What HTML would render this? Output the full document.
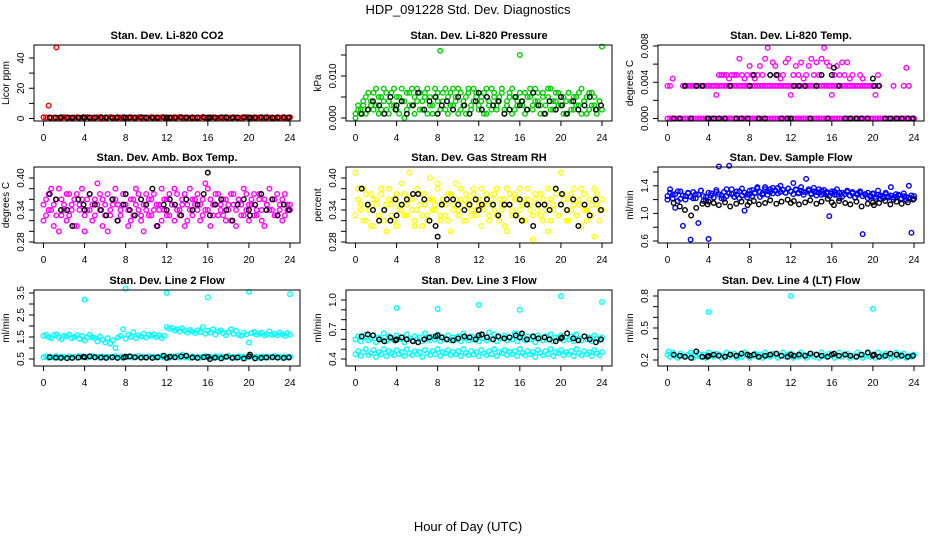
<!DOCTYPE html>
<html><head><meta charset="utf-8"><style>
html,body{margin:0;padding:0;background:#fff;}
svg{display:block;font-family:"Liberation Sans",Arial,sans-serif;}
</style></head><body>
<svg id="chart" width="936" height="540" viewBox="0 0 936 540" xmlns="http://www.w3.org/2000/svg">
<text x="468" y="14" text-anchor="middle" font-size="13">HDP_091228  Std. Dev. Diagnostics</text>
<text x="468" y="531" text-anchor="middle" font-size="13">Hour of Day (UTC)</text>
</svg>
<script>
const T = [0,0.25,0.5,0.75,1,1.25,1.5,1.75,2,2.25,2.5,2.75,3,3.25,3.5,3.75,4,4.25,4.5,4.75,5,5.25,5.5,5.75,6,6.25,6.5,6.75,7,7.25,7.5,7.75,8,8.25,8.5,8.75,9,9.25,9.5,9.75,10,10.25,10.5,10.75,11,11.25,11.5,11.75,12,12.25,12.5,12.75,13,13.25,13.5,13.75,14,14.25,14.5,14.75,15,15.25,15.5,15.75,16,16.25,16.5,16.75,17,17.25,17.5,17.75,18,18.25,18.5,18.75,19,19.25,19.5,19.75,20,20.25,20.5,20.75,21,21.25,21.5,21.75,22,22.25,22.5,22.75,23,23.25,23.5,23.75,24];
const TB = [0.6,1.2,1.7,2.3,2.8,3.4,3.9,4.0,4.5,5.0,5.6,6.1,6.7,7.2,7.8,8.0,8.4,8.9,9.5,10.0,10.6,11.1,11.7,12.0,12.3,12.8,13.4,13.9,14.5,15.0,15.6,16.0,16.2,16.7,17.3,17.8,18.4,18.9,19.5,20.0,20.1,20.6,21.2,21.7,22.3,22.8,23.4,23.9];
const xTicks = [0,4,8,12,16,20,24];
const n = null;

const co2Red = [0.8,0.6,8.5,0.5,0.7,47,0.6,0.5,0.9,0.6,0.7,0.5,0.6,0.8,0.5,0.7,0.6,0.9,0.5,0.6,0.7,0.8,0.6,0.5,0.7,0.6,0.9,0.5,0.6,0.8,0.7,0.5,0.6,0.7,0.9,0.6,0.5,0.8,0.6,0.7,0.5,0.6,0.9,0.7,0.6,0.5,0.8,0.6,0.7,0.5,0.6,0.8,0.7,0.9,0.5,0.6,0.7,0.6,0.8,0.5,0.7,0.6,0.9,0.5,0.6,0.7,0.8,0.6,0.5,0.7,0.6,0.9,0.5,0.6,0.8,0.7,0.5,0.6,0.7,0.9,0.6,0.5,0.8,0.6,0.7,0.5,0.6,0.9,0.7,0.6,0.5,0.8,0.6,0.7,0.5,0.6,0.8];
const co2Black = [0.7,0.6,0.8,0.7,0.6,0.7,0.8,0.6,0.7,0.6,0.8,0.7,0.6,0.7,0.8,0.6,0.7,0.6,0.8,0.7,0.6,0.7,0.8,0.6,0.7,0.6,0.8,0.7,0.6,0.7,0.8,0.6,0.7,0.6,0.8,0.7,0.6,0.7,0.8,0.6,0.7,0.6,0.8,0.7,0.6,0.7,0.8,0.6];

const presA = [0.001,0.002,0.001,0.003,0.005,0.002,0.004,0.006,0.003,0.001,0.005,0.007,0.002,0.004,0.006,0.003,0.005,0.001,0.007,0.004,0.002,0.006,0.003,0.005,0.007,0.002,0.004,0.006,0.001,0.005,0.003,0.007,0.004,0.016,0.006,0.002,0.005,0.003,0.007,0.004,0.001,0.006,0.003,0.005,0.007,0.002,0.004,0.006,0.003,0.005,0.001,0.007,0.004,0.002,0.006,0.003,0.005,0.007,0.002,0.004,0.006,0.001,0.005,0.003,0.015,0.004,0.006,0.002,0.005,0.003,0.007,0.004,0.001,0.006,0.003,0.005,0.007,0.002,0.004,0.006,0.003,0.005,0.001,0.006,0.004,0.002,0.005,0.003,0.007,0.004,0.001,0.006,0.003,0.005,0.002,0.004,0.017];
const presB = [0.000,0.003,0.002,0.004,0.001,0.006,0.003,0.002,0.007,0.005,0.002,0.004,0.006,0.001,0.003,0.007,0.002,0.005,0.004,0.000,0.006,0.003,0.007,0.001,0.004,0.006,0.002,0.005,0.007,0.003,0.001,0.005,0.006,0.002,0.004,0.007,0.001,0.006,0.003,0.005,0.007,0.002,0.004,0.001,0.006,0.003,0.007,0.005,0.002,0.004,0.006,0.001,0.003,0.007,0.005,0.002,0.004,0.006,0.001,0.003,0.005,0.007,0.002,0.004,0.006,0.003,0.001,0.005,0.007,0.002,0.004,0.006,0.003,0.005,0.001,0.007,0.002,0.004,0.006,0.003,0.005,0.001,0.004,0.006,0.002,0.005,0.003,0.006,0.001,0.004,0.005,0.002,0.006,0.003,0.001,0.004,0.002];
const presBlack = [0.001,0.002,0.004,0.003,0.001,0.005,0.002,0.003,0.004,0.001,0.003,0.006,0.002,0.004,0.005,0.001,0.003,0.004,0.002,0.005,0.003,0.001,0.004,0.006,0.002,0.005,0.003,0.004,0.001,0.002,0.005,0.003,0.004,0.002,0.006,0.003,0.001,0.004,0.002,0.005,0.003,0.001,0.004,0.002,0.003,0.005,0.002,0.003];

const tempZero = [0,0,0,0,0,0,0,0,0,0,0,0,0,0,0,0,0,0,0,0,0,0,0,0,0,0,0,0,0,0,0,0,0,0,0,0,0,0,0,0,0,0,0,0,0,0,0,0,0,0,0,0,0,0,0,0,0,0,0,0,0,0,0,0,0,0,0,0,0,0,0,0,0,0,0,0,0,0,0,0,0,0,0,0,0,0,0,0,0,0,0,0,0,0,0,0,0];
const tempBand = [.0036,.0036,n,n,n,n,.0036,.0036,.0036,.0036,.0036,.0036,.0036,.0036,.0036,.0036,.0036,.0036,.0036,.0036,.0036,.0036,.0036,.0036,.0036,.0036,.0036,.0036,.0036,.0036,.0036,.0036,.0036,.0036,.0036,.0036,.0036,.0036,.0036,.0036,.0036,.0036,.0036,.0036,.0036,.0036,.0036,.0036,.0036,.0036,.0036,.0036,.0036,.0036,.0036,.0036,.0036,.0036,.0036,.0036,.0036,.0036,.0036,.0036,.0036,.0036,.0036,.0036,.0036,.0036,.0036,.0036,.0036,.0036,.0036,.0036,.0036,.0036,.0036,.0036,.0036,.0036,.0036,n,n,n,n,n,.0036,n,n,n,.0036,n,.0036,n,n];
const tempScatter = [n,n,.0044,n,n,n,n,n,n,n,n,n,n,n,n,n,n,n,n,.0026,.0048,.0048,.0048,.0048,.0044,.0048,.0048,.0048,.0066,.0048,.0044,.0048,.0058,.0048,.0044,.0048,.0058,.0048,.0066,.0078,.0048,.0062,.0058,.0048,.0044,.0048,.0062,.0066,.0026,.0048,.0058,.0048,.0062,.0044,.0048,.0058,.0066,.0048,.0062,.0048,.0066,.0078,.0062,.0058,.0026,.0048,.0058,.0048,.0062,.0048,.0062,.0044,.0048,n,n,.0048,.0044,n,n,n,n,.0026,.0048,n,n,n,n,n,n,n,n,n,n,.0056,n,n,n];
const tempBlack = [0,0,.0036,0,.0036,.0036,0,0,0,0,0,.0036,0,0,0,.0036,.0048,0,0,.0048,.0048,0,0,0,.0036,.0036,.0036,0,.0036,.0048,0,.0048,.0056,.0036,0,0,0,0,0,.0044,.0036,.0036,0,0,0,0,0,0];

const ambA = [.35,.33,.37,.34,.31,.36,.38,.33,.35,.32,.37,.34,.36,.31,.35,.38,.33,.36,.34,.32,.36,.39,.34,.31,.35,.37,.33,.35,.36,.32,.34,.37,.35,.31,.36,.33,.38,.34,.32,.35,.37,.33,.36,.34,.31,.35,.38,.34,.36,.33,.35,.32,.37,.34,.36,.31,.35,.38,.33,.36,.34,.32,.36,.39,.34,.31,.35,.37,.33,.35,.36,.32,.34,.37,.35,.31,.36,.33,.38,.34,.32,.35,.37,.33,.36,.34,.31,.35,.38,.34,.36,.33,.35,.32,.37,.34,.35];
const ambB = [.32,.36,.34,.38,.35,.33,.30,.36,.34,.37,.33,.35,.31,.37,.34,.36,.30,.34,.37,.35,.33,.35,.37,.36,.33,.30,.34,.36,.38,.35,.33,.35,.37,.34,.32,.36,.35,.37,.33,.30,.34,.36,.33,.37,.35,.34,.32,.36,.33,.37,.35,.38,.34,.33,.35,.37,.32,.34,.36,.35,.37,.35,.33,.34,.38,.36,.33,.35,.37,.34,.33,.36,.35,.32,.37,.34,.36,.35,.33,.37,.35,.36,.33,.34,.37,.32,.36,.35,.34,.36,.33,.37,.34,.36,.33,.35,.34];
const ambBlack = [.37,.36,.34,.34,.31,.36,.35,.34,.37,.35,.34,.33,.36,.32,.35,.37,.34,.33,.36,.35,.38,.31,.35,.34,.36,.35,.33,.36,.34,.35,.37,.41,.33,.35,.36,.34,.32,.35,.36,.34,.33,.35,.37,.34,.36,.33,.35,.34];

const flowA = [1.25,1.30,1.22,1.28,1.18,1.32,1.26,1.20,1.29,1.24,1.31,1.22,1.27,1.33,1.25,1.19,1.30,1.26,1.23,1.34,1.28,1.22,1.31,1.25,1.29,1.35,1.24,1.27,1.32,1.26,1.30,1.23,1.28,1.34,1.29,1.36,1.31,1.27,1.38,1.32,1.35,1.29,1.33,1.37,1.31,1.34,1.30,1.36,1.32,1.28,1.34,1.30,1.33,1.27,1.31,1.35,1.29,1.32,1.26,1.30,1.33,1.28,1.31,1.25,1.29,1.32,1.27,1.30,1.24,1.28,1.31,1.26,1.29,1.23,1.27,1.30,1.25,1.28,1.22,1.26,1.29,1.24,1.27,1.21,1.25,1.28,1.23,1.26,1.20,1.24,1.27,1.22,1.25,1.19,1.23,1.26,1.21];
const flowB = [1.20,1.35,1.27,1.08,1.32,1.21,0.82,1.25,1.30,0.62,1.22,1.28,0.86,1.33,1.18,1.24,0.63,1.29,1.23,1.31,1.68,1.26,1.21,1.35,1.69,1.28,1.24,1.32,1.22,1.36,1.04,1.27,1.33,1.25,1.30,1.38,1.24,1.29,1.35,1.27,1.31,1.37,1.33,1.29,1.40,1.34,1.30,1.36,1.32,1.44,1.35,1.29,1.38,1.31,1.50,1.33,1.28,1.37,1.31,1.35,1.27,1.34,1.29,0.96,1.32,1.27,1.35,1.22,1.30,1.28,1.33,1.26,1.31,1.23,1.29,1.32,0.70,1.27,1.30,1.24,1.28,1.21,1.33,1.26,1.22,1.30,1.25,1.38,1.23,1.28,1.26,1.21,1.29,1.24,1.40,0.72,1.25];
const flowBlack = [1.15,1.10,1.05,0.97,1.08,1.14,1.13,1.17,1.15,1.12,1.16,1.10,1.14,1.17,1.12,1.16,1.18,1.13,1.15,1.19,1.14,1.17,1.20,1.15,1.18,1.13,1.16,1.19,1.14,1.17,1.21,1.16,1.12,1.18,1.15,1.13,1.17,1.10,1.14,1.16,1.12,1.15,1.18,1.13,1.17,1.14,1.16,1.20];

const rhA = [.41,.36,.34,.38,.32,.35,.37,.31,.36,.33,.38,.34,.30,.36,.35,.32,.37,.34,.39,.33,.35,.41,.36,.32,.34,.37,.31,.35,.33,.40,.36,.34,.38,.32,.35,.33,.37,.30,.35,.39,.34,.36,.32,.37,.35,.33,.38,.34,.36,.31,.35,.37,.33,.36,.34,.38,.32,.35,.36,.30,.37,.34,.36,.33,.38,.35,.32,.36,.34,.285,.37,.35,.33,.36,.34,.38,.32,.35,.37,.33,.41,.36,.34,.32,.37,.35,.33,.36,.38,.34,.32,.36,.35,.29,.37,.34,.36];
const rhB = [.33,.38,.35,.32,.37,.34,.31,.36,.35,.33,.37,.32,.35,.38,.33,.36,.31,.35,.34,.37,.33,.36,.34,.31,.38,.35,.33,.37,.32,.36,.34,.35,.39,.33,.36,.35,.32,.37,.34,.36,.33,.38,.35,.32,.36,.34,.37,.33,.35,.38,.34,.36,.32,.35,.37,.33,.36,.34,.31,.38,.35,.33,.37,.36,.34,.32,.36,.38,.35,.33,.36,.34,.37,.32,.35,.30,.36,.34,.38,.33,.35,.37,.32,.36,.34,.38,.33,.35,.31,.37,.34,.36,.33,.38,.35,.32,.34];
const rhBlack = [.38,.35,.34,.32,.34,.32,.36,.33,.35,.36,.37,.37,.36,.32,.31,.29,.35,.36,.36,.35,.34,.35,.36,.34,.35,.36,.35,.33,.35,.35,.33,.36,.32,.35,.31,.35,.35,.34,.38,.35,.37,.34,.36,.31,.35,.33,.36,.34];

const line2Upper = [1.55,1.60,1.50,1.45,1.58,1.62,1.48,1.40,1.55,1.52,1.60,1.45,1.50,1.58,1.42,1.55,1.35,1.48,1.60,1.50,1.45,1.30,1.52,1.38,1.25,1.45,1.20,1.35,1.00,1.48,1.55,1.85,1.42,1.60,1.50,1.72,1.45,1.58,1.52,1.65,1.48,1.60,1.55,1.62,1.50,1.58,1.45,1.55,1.95,1.88,1.92,1.80,1.85,1.75,1.90,1.78,1.70,1.82,1.75,1.68,1.80,1.72,1.95,1.65,1.78,1.70,1.85,1.62,1.75,1.80,1.68,1.58,1.72,1.85,1.65,1.78,1.60,1.55,1.70,1.62,1.25,1.68,1.72,1.60,1.65,1.70,1.58,1.62,1.75,1.60,1.65,1.58,1.70,1.62,1.55,1.68,1.60];
const line2Lower = [.58,.62,.55,.60,.57,.63,.56,.61,.59,.54,.62,.57,.60,.55,.63,.58,.61,.56,.59,.64,.57,.60,.55,.62,.58,.61,.56,.59,.63,.57,.60,.55,.62,.58,.61,.56,.59,.64,.57,.60,.55,.62,.58,.61,.56,.59,.63,.57,.60,.55,.62,.58,.64,.56,.70,.57,.60,.55,.62,.58,.61,.56,.59,.63,.57,.60,.55,.62,.58,.61,.56,.59,.64,.57,.60,.55,.62,.58,.61,.56,.59,.63,.57,.60,.55,.62,.58,.61,.56,.59,.64,.57,.60,.55,.62,.58,.61];
const line2OutHours = [4,8,12,16,20,24];
const line2OutVals = [3.2,3.7,3.5,3.3,3.55,3.45];
const line2Black = [.58,.56,.55,.54,.55,.57,.60,.58,.62,.58,.57,.55,.58,.55,.57,.60,.62,.58,.56,.57,.55,.58,.65,.55,.60,.58,.62,.65,.57,.55,.58,.60,.50,.56,.53,.60,.55,.57,.52,.62,.70,.53,.55,.57,.58,.56,.55,.57];

const line3Lower = [.45,.48,.43,.47,.50,.44,.46,.49,.42,.47,.45,.50,.43,.48,.46,.44,.49,.45,.47,.43,.50,.46,.44,.48,.45,.47,.42,.49,.46,.44,.48,.45,.50,.43,.47,.46,.49,.44,.47,.45,.48,.43,.50,.46,.44,.48,.45,.47,.43,.49,.46,.44,.48,.45,.50,.43,.47,.46,.49,.44,.47,.45,.48,.43,.50,.46,.44,.48,.45,.47,.42,.49,.46,.44,.48,.45,.50,.43,.47,.46,.49,.44,.47,.45,.48,.43,.50,.46,.44,.48,.45,.47,.43,.49,.46,.44,.47];
const line3Upper = [.60,.63,.58,.62,.65,.59,.61,.64,.57,.62,.60,.66,.58,.63,.61,.59,.64,.60,.62,.57,.65,.61,.59,.63,.60,.62,.58,.66,.61,.59,.63,.60,.65,.58,.62,.61,.64,.59,.62,.60,.63,.58,.66,.61,.59,.63,.60,.62,.58,.64,.61,.59,.67,.60,.65,.58,.62,.61,.64,.59,.62,.60,.66,.58,.65,.61,.59,.63,.60,.62,.57,.64,.61,.59,.63,.60,.65,.58,.62,.61,.64,.59,.62,.60,.63,.58,.65,.61,.59,.63,.60,.62,.58,.64,.61,.59,.62];
const line3OutHours = [4,8,12,16,20,24];
const line3OutVals = [.92,.91,.95,.90,1.04,.98];
const line3Black = [.63,.65,.64,.60,.58,.62,.59,.60,.62,.60,.58,.57,.60,.62,.63,.64,.62,.60,.59,.61,.63,.62,.60,.64,.65,.62,.60,.63,.61,.62,.64,.62,.66,.60,.63,.61,.62,.60,.58,.61,.62,.66,.61,.59,.63,.60,.57,.60];

const line4Band = [.25,.23,.27,.24,.22,.26,.24,.23,.25,.27,.22,.24,.26,.23,.25,.22,.27,.24,.23,.26,.25,.22,.24,.27,.23,.25,.26,.22,.24,.23,.27,.25,.22,.24,.26,.23,.25,.22,.27,.24,.23,.26,.25,.22,.24,.27,.23,.25,.26,.22,.24,.23,.27,.25,.22,.24,.26,.23,.25,.22,.27,.24,.23,.26,.25,.22,.24,.27,.23,.25,.26,.22,.24,.23,.27,.25,.22,.24,.26,.23,.25,.22,.27,.24,.23,.26,.25,.22,.24,.27,.23,.25,.26,.22,.24,.23,.25];
const line4OutHours = [0.1,4,12,20];
const line4OutVals = [.28,.65,.80,.68];
const line4Black = [.25,.24,.23,.22,.28,.23,.23,.24,.25,.24,.23,.25,.24,.26,.25,.24,.25,.23,.24,.25,.26,.24,.23,.25,.24,.25,.24,.26,.25,.24,.23,.25,.26,.24,.25,.24,.23,.25,.27,.24,.25,.23,.24,.26,.25,.24,.23,.24];

const svg = document.getElementById('chart');
const NS = 'http://www.w3.org/2000/svg';
function mk(tag, attrs, parent){const e=document.createElementNS(NS,tag);for(const k in attrs)e.setAttribute(k,attrs[k]);(parent||svg).appendChild(e);return e;}

const colL = [34,346,658];
const rowT = [45,167,290];
const W = 266, H = 76;

const panels = [
 {c:0,r:0,title:'Stan. Dev. Li-820 CO2',yt:'Licor ppm',map:[0,118.5,40,58],ticks:[0,10,20,30,40],labels:{0:'0',20:'20',40:'40'},
  series:[{x:T,y:co2Red,col:'#ff0000',name:'co2-points'}],black:co2Black},
 {c:1,r:0,title:'Stan. Dev. Li-820 Pressure',yt:'kPa',map:[0,118,0.010,76],ticks:[0,0.005,0.010,0.015],labels:{0:'0.000',0.01:'0.010'},
  series:[{x:T,y:presA,col:'#00cd00',name:'pressure-points'},{x:T,y:presB,col:'#00cd00',name:'pressure-points'}],black:presBlack},
 {c:2,r:0,title:'Stan. Dev. Li-820 Temp.',yt:'degrees C',map:[0,118.5,0.008,46],ticks:[0,0.002,0.004,0.006,0.008],labels:{0:'0.000',0.004:'0.004',0.008:'0.008'},
  series:[{x:T,y:tempZero,col:'#ff00ff',name:'temp-points'},{x:T,y:tempBand,col:'#ff00ff',name:'temp-points'},{x:T,y:tempScatter,col:'#ff00ff',name:'temp-points'}],black:tempBlack},
 {c:0,r:1,title:'Stan. Dev. Amb. Box Temp.',yt:'degrees C',map:[0.28,242,0.40,178],ticks:[0.28,0.30,0.32,0.34,0.36,0.38,0.40],labels:{0.28:'0.28',0.34:'0.34',0.4:'0.40'},
  series:[{x:T,y:ambA,col:'#ff00ff',name:'amb-temp-points'},{x:T,y:ambB,col:'#ff00ff',name:'amb-temp-points'}],black:ambBlack},
 {c:1,r:1,title:'Stan. Dev. Gas Stream RH',yt:'percent',map:[0.28,242,0.40,178],ticks:[0.28,0.30,0.32,0.34,0.36,0.38,0.40],labels:{0.28:'0.28',0.34:'0.34',0.4:'0.40'},
  series:[{x:T,y:rhA,col:'#ffff00',name:'rh-points'},{x:T,y:rhB,col:'#ffff00',name:'rh-points'}],black:rhBlack},
 {c:2,r:1,title:'Stan. Dev. Sample Flow',yt:'ml/min',map:[0.6,241,1.6,172],ticks:[0.6,0.8,1.0,1.2,1.4,1.6],labels:{0.6:'0.6',1:'1.0',1.4:'1.4'},
  series:[{x:T,y:flowA,col:'#0000ff',name:'sample-flow-points'},{x:T,y:flowB,col:'#0000ff',name:'sample-flow-points'}],black:flowBlack},
 {c:0,r:2,title:'Stan. Dev. Line 2 Flow',yt:'ml/min',map:[0.5,359,3.5,293],ticks:[0.5,1,1.5,2,2.5,3,3.5],labels:{0.5:'0.5',1.5:'1.5',2.5:'2.5',3.5:'3.5'},
  series:[{x:T,y:line2Upper,col:'#00ffff',name:'line2-points'},{x:T,y:line2Lower,col:'#00ffff',name:'line2-points'},{x:line2OutHours,y:line2OutVals,col:'#00ffff',name:'line2-outlier'}],black:line2Black},
 {c:1,r:2,title:'Stan. Dev. Line 3 Flow',yt:'ml/min',map:[0.4,359,1.0,300],ticks:[0.4,0.5,0.6,0.7,0.8,0.9,1.0],labels:{0.4:'0.4',0.7:'0.7',1:'1.0'},
  series:[{x:T,y:line3Lower,col:'#00ffff',name:'line3-points'},{x:T,y:line3Upper,col:'#00ffff',name:'line3-points'},{x:line3OutHours,y:line3OutVals,col:'#00ffff',name:'line3-outlier'}],black:line3Black},
 {c:2,r:2,title:'Stan. Dev. Line 4 (LT) Flow',yt:'ml/min',map:[0.2,360,0.8,296],ticks:[0.2,0.3,0.4,0.5,0.6,0.7,0.8],labels:{0.2:'0.2',0.5:'0.5',0.8:'0.8'},
  series:[{x:T,y:line4Band,col:'#00ffff',name:'line4-points'},{x:line4OutHours,y:line4OutVals,col:'#00ffff',name:'line4-outlier'}],black:line4Black}
];

panels.forEach((p,pi)=>{
  const L=colL[p.c], Tp=rowT[p.r];
  const g=mk('g',{});
  
  
  const xs=h=>L+9.5+h*(246.5/24);
  const ys=v=>p.map[1]+(v-p.map[0])*(p.map[3]-p.map[1])/(p.map[2]-p.map[0]);
  const tt=mk('text',{x:L+W/2,y:Tp-6,'text-anchor':'middle','font-size':11,'font-weight':'bold'},g);
  tt.textContent=p.title;
  
  
  // x axis
  xTicks.forEach(h=>{
    const x=xs(h);
    mk('line',{x1:x,y1:Tp+H,x2:x,y2:Tp+H+5,stroke:'#000','stroke-width':1},g);
    const t=mk('text',{x:x,y:Tp+H+20,'text-anchor':'middle','font-size':10},g);
    t.textContent=String(h);
    
    
  });
  // y axis
  p.ticks.forEach(v=>{
    const y=ys(v);
    mk('line',{x1:L-5,y1:y,x2:L,y2:y,stroke:'#000','stroke-width':1},g);
    let lab=null;
    for(const k in p.labels){ if(Math.abs(parseFloat(k)-v)<1e-9) lab=p.labels[k]; }
    if(lab!==null){
      const t=mk('text',{x:L-10,y:y,'text-anchor':'middle','font-size':10,transform:'rotate(-90 '+(L-10)+' '+y+')'},g);
      t.textContent=lab;
      
      
    }
  });
  const yt=mk('text',{x:L-25,y:Tp+H/2,'text-anchor':'middle','font-size':10,transform:'rotate(-90 '+(L-25)+' '+(Tp+H/2)+')'},g);
  yt.textContent=p.yt;
  
  
  // points
  p.series.forEach(s=>{
    const len=Math.min(s.x.length,s.y.length);
    for(let i=0;i<len;i++){
      if(s.y[i]===null||s.y[i]===undefined) continue;
      const c=mk('circle',{cx:xs(s.x[i]),cy:ys(s.y[i]),r:2.3,fill:'none',stroke:s.col,'stroke-width':1.4},g);
      
      
    }
  });
  const bl=Math.min(TB.length,p.black.length);
  for(let i=0;i<bl;i++){
    const c=mk('circle',{cx:xs(TB[i]),cy:ys(p.black[i]),r:2.3,fill:'none',stroke:'#000','stroke-width':1.4},g);
    
    
  }
  const box=mk('rect',{x:L,y:Tp,width:W,height:H,fill:'none',stroke:'#000','stroke-width':1},g);
  
  
});
</script>
</body></html>
